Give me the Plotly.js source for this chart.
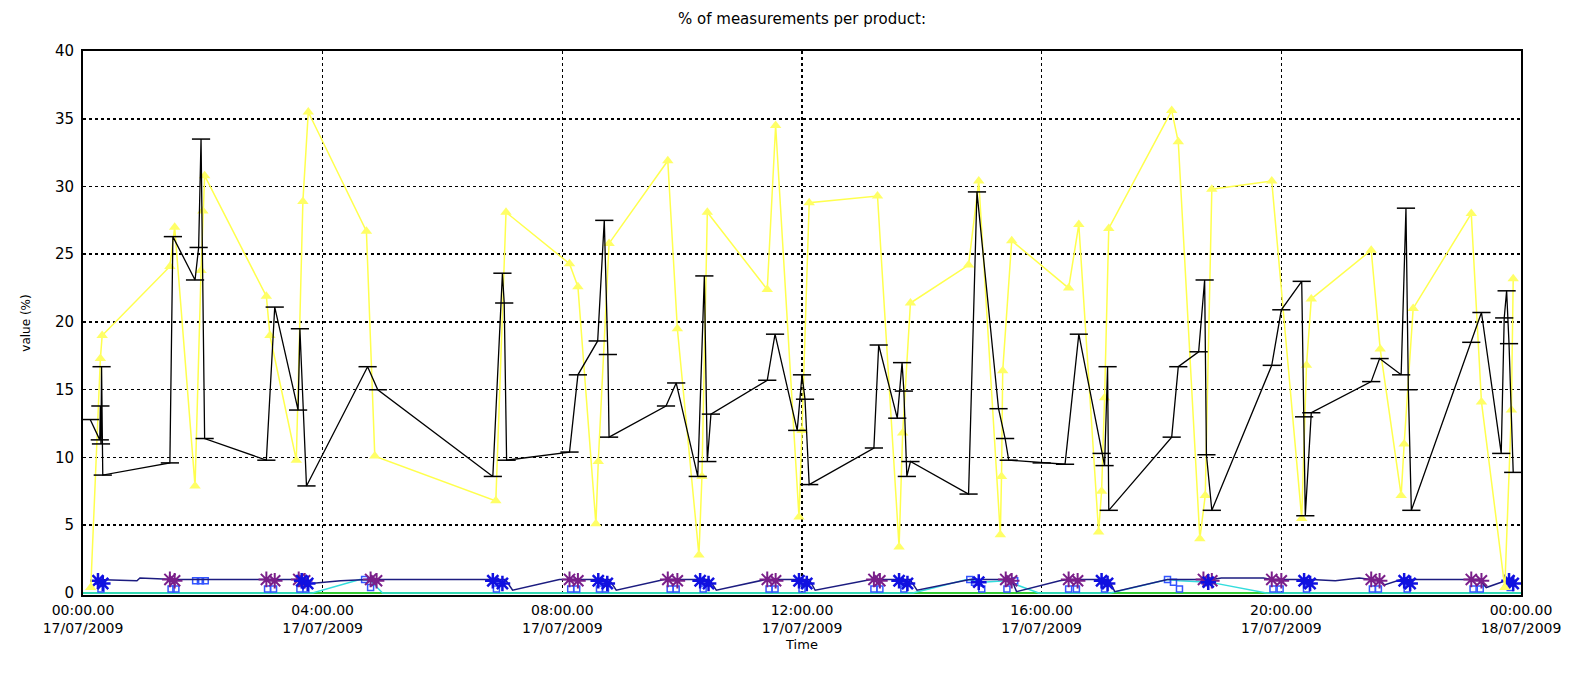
<!DOCTYPE html>
<html>
<head>
<meta charset="utf-8">
<script src="https://cdn.plot.ly/plotly-3.0.1.min.js"></script>
<style>
html,body{margin:0;padding:0;background:#fff;}
#chart{width:1594px;height:679px;}
</style>
</head>
<body>
<div id="chart"></div>
<script>
// ---- data (hours since 00:00 17/07/2009, value in %) ----
const tickHours = [0, 4, 8, 12, 16, 20, 24];
const tickLabels = [
  "00:00.00<br>17/07/2009", "04:00.00<br>17/07/2009", "08:00.00<br>17/07/2009",
  "12:00.00<br>17/07/2009", "16:00.00<br>17/07/2009", "20:00.00<br>17/07/2009",
  "00:00.00<br>18/07/2009"
];
const yTicks = [0, 5, 10, 15, 20, 25, 30, 35, 40];

const yellowX = [0.13, 0.29, 0.32, 1.45, 1.53, 1.87, 1.97, 2.0, 2.03, 3.06, 3.12, 3.56, 3.67, 3.76, 4.73, 4.87,
  6.89, 7.06, 8.12, 8.26, 8.56, 8.6, 8.78, 9.76, 9.92, 10.28, 10.33, 10.42, 11.42, 11.56, 11.95, 12.0, 12.12,
  13.26, 13.62, 13.68, 13.81, 14.78, 14.95, 15.31, 15.33, 15.35, 15.5, 16.45, 16.62, 16.95, 17.0, 17.05, 17.12,
  18.17, 18.28, 18.64, 18.73, 18.84, 19.84, 20.34, 20.42, 20.5, 21.5, 21.65, 22.0, 22.05, 22.2,
  23.17, 23.34, 23.73, 23.84, 23.87];
const yellowY = [0.4, 17.3, 19.0, 24.1, 27.0, 7.9, 23.8, 28.2, 30.8, 21.9, 19.0, 9.8, 28.9, 35.5, 26.7, 10.1,
  6.8, 28.1, 24.3, 22.6, 5.1, 9.7, 25.8, 31.9, 19.5, 2.8, 8.6, 28.1, 22.4, 34.5, 5.6, 12.0, 28.8,
  29.3, 3.4, 11.8, 21.4, 24.2, 30.4, 4.3, 8.6, 16.4, 26.0, 22.5, 27.2, 4.5, 7.5, 14.4, 26.9,
  35.6, 33.3, 4.0, 7.2, 29.8, 30.4, 5.5, 16.8, 21.7, 25.3, 18.0, 7.2, 11.0, 21.0,
  28.0, 14.1, 0.4, 13.5, 23.2];

const blackX = [0.12, 0.28, 0.29, 0.30, 0.31, 0.33, 1.45, 1.50, 1.87, 1.93, 1.97, 2.03, 3.06, 3.20, 3.59, 3.62, 3.73,
  4.75, 4.92, 6.84, 7.00, 7.03, 7.07, 8.12, 8.26, 8.59, 8.70, 8.76, 8.78, 9.73, 9.90, 10.26, 10.37, 10.42, 10.48,
  11.42, 11.55, 11.92, 12.00, 12.05, 12.12, 13.20, 13.28, 13.59, 13.67, 13.70, 13.75, 13.81, 14.78, 14.92,
  15.28, 15.39, 15.45, 16.00, 16.39, 16.62, 17.00, 17.05, 17.10, 17.12, 18.17, 18.28, 18.62, 18.72, 18.75, 18.84,
  19.84, 20.00, 20.34, 20.38, 20.40, 20.50, 21.50, 21.64, 22.00, 22.08, 22.12, 22.17, 23.17, 23.34,
  23.67, 23.72, 23.76, 23.80, 23.87];
const blackY = [12.8, 11.3, 13.8, 11.0, 16.7, 8.7, 9.6, 26.3, 23.1, 25.5, 33.5, 11.4, 9.8, 21.1, 13.5, 19.5, 7.9,
  16.7, 15.0, 8.6, 23.6, 21.4, 9.8, 10.4, 16.1, 18.6, 27.5, 17.6, 11.5, 13.8, 15.5, 8.6, 23.4, 9.7, 13.2,
  15.7, 19.1, 12.0, 16.1, 14.3, 8.0, 10.7, 18.3, 12.9, 17.0, 14.9, 8.6, 9.7, 7.3, 29.6,
  13.6, 11.4, 9.8, 9.6, 9.5, 19.1, 10.3, 9.4, 16.7, 6.1, 11.5, 16.7, 17.8, 23.1, 10.2, 6.1,
  16.8, 20.9, 23.0, 13.0, 5.7, 13.3, 15.6, 17.3, 16.1, 28.4, 15.0, 6.1, 18.5, 20.7,
  10.3, 20.3, 22.3, 18.4, 8.9];

const navyX = [0.2, 0.9, 0.95, 1.45, 1.53, 1.95, 2.05, 3.06, 3.2, 3.65, 3.8, 4.3, 4.75, 4.92, 6.0, 6.84, 7.05, 7.17,
  7.95, 8.12, 8.26, 8.6, 8.78, 8.9, 9.7, 9.76, 9.92, 10.3, 10.45, 10.57, 11.4, 11.56, 11.95, 12.12, 12.22,
  13.15, 13.28, 13.62, 13.8, 13.92, 14.8, 14.95, 15.4, 15.5, 15.58, 16.0, 16.3, 16.45, 16.62, 17.0, 17.12, 17.22,
  18.1, 18.3, 18.7, 18.84, 19.0, 19.7, 19.84, 20.0, 20.4, 20.5, 20.9, 21.3, 21.5, 21.64, 21.72, 22.0, 22.2,
  23.15, 23.3, 23.42, 23.8, 23.87];
const navyY = [1.0, 0.9, 1.1, 1.0, 1.0, 1.0, 1.0, 1.0, 1.0, 1.0, 0.7, 0.9, 1.0, 1.0, 1.0, 1.0, 1.0, 0.2,
  1.0, 1.0, 1.0, 1.0, 1.0, 0.2, 1.0, 1.0, 1.0, 1.0, 1.0, 0.2, 1.0, 1.0, 1.0, 1.0, 0.2,
  1.0, 1.0, 1.0, 1.0, 0.2, 1.0, 1.0, 1.0, 1.0, 0.1, 0.6, 0.9, 1.0, 1.0, 1.0, 1.0, 0.1,
  1.0, 1.0, 1.0, 1.0, 1.1, 1.1, 1.0, 1.0, 1.0, 1.0, 0.9, 1.1, 1.0, 1.0, 0.6, 1.0, 1.0,
  1.0, 1.0, 0.4, 1.0, 1.0];

const purpleX = [1.45, 1.53, 3.06, 3.2, 3.6, 3.7, 4.8, 4.9, 8.12, 8.26, 9.76, 9.92, 11.42, 11.56, 13.2, 13.3,
  15.4, 15.5, 16.45, 16.6, 18.7, 18.84, 19.84, 20.0, 21.5, 21.64, 23.17, 23.34];
const purpleY = [1.0, 0.9, 1.0, 0.9, 1.0, 0.9, 1.0, 0.9, 1.0, 0.9, 1.0, 0.9, 1.0, 0.9, 1.0, 0.9,
  1.0, 0.9, 1.0, 0.9, 1.0, 0.9, 1.0, 0.9, 1.0, 0.9, 1.0, 0.9];

const blueX = [0.25, 0.33, 3.65, 3.75, 6.84, 7.0, 8.6, 8.75, 10.3, 10.44, 11.95, 12.08, 13.62, 13.76,
  14.95, 17.0, 17.1, 18.78, 20.38, 20.48, 22.05, 22.15, 23.8, 23.87];
const blueY = [0.9, 0.7, 0.9, 0.7, 0.9, 0.7, 0.9, 0.7, 0.9, 0.7, 0.9, 0.7, 0.9, 0.7,
  0.8, 0.9, 0.7, 0.8, 0.9, 0.7, 0.9, 0.7, 0.9, 0.7];

const squareX = [0.3, 1.47, 1.55, 1.88, 1.96, 2.04, 3.08, 3.18, 3.62, 3.72, 4.7, 4.8, 6.9, 8.14, 8.24, 8.62, 8.72,
  9.8, 9.9, 10.35, 11.45, 11.55, 12.0, 13.2, 13.3, 13.7, 14.8, 14.88, 15.0, 15.42, 15.55, 16.45, 16.58, 17.05,
  18.1, 18.2, 18.3, 18.72, 18.82, 19.86, 19.98, 20.42, 21.52, 21.62, 22.1, 23.2, 23.32, 23.82];
const squareY = [0.3, 0.3, 0.3, 0.9, 0.9, 0.9, 0.3, 0.3, 0.3, 0.3, 1.0, 0.4, 0.3, 0.3, 0.3, 0.3, 0.3,
  0.3, 0.3, 0.3, 0.3, 0.3, 0.3, 0.3, 0.3, 0.3, 1.0, 0.8, 0.3, 0.3, 0.9, 0.3, 0.3, 0.3,
  1.0, 0.8, 0.3, 0.9, 0.9, 0.3, 0.3, 0.3, 0.3, 0.3, 0.3, 0.3, 0.3, 0.4];

const cyanX = [0, 3.83, 4.62, 4.8, 5.0, 13.85, 14.75, 15.0, 15.4, 15.95, 17.15, 18.1, 18.3, 18.8, 19.75, 24];
const cyanY = [0, 0, 1.0, 0.9, 0, 0, 1.0, 0.8, 0.9, 0, 0, 1.0, 0.9, 0.8, 0, 0];

const greenX = [0, 24];
const greenY = [0, 0];

// ---- traces ----
const traces = [
  {x: greenX, y: greenY, mode: 'lines', line: {color: '#33cc33', width: 2}, hoverinfo: 'skip'},
  {x: cyanX, y: cyanY, mode: 'lines', line: {color: '#33dddd', width: 1.5}},
  {x: squareX, y: squareY, mode: 'markers',
   marker: {symbol: 'square-open', size: 6, color: '#3355ff', line: {width: 1.5, color: '#3355ff'}}},
  {x: navyX, y: navyY, mode: 'lines', line: {color: '#1c1c80', width: 1.5}},
  {x: purpleX, y: purpleY, mode: 'markers',
   marker: {symbol: 'asterisk-open', size: 13, color: '#7a1f8a', line: {width: 2, color: '#7a1f8a'}}},
  {x: blueX, y: blueY, mode: 'markers',
   marker: {symbol: 'asterisk-open', size: 13, color: '#1010e0', line: {width: 2.5, color: '#1010e0'}}},
  {x: yellowX, y: yellowY, mode: 'lines+markers', line: {color: '#ffff4d', width: 1.5},
   marker: {symbol: 'triangle-up', size: 10, color: '#ffff66'}},
  {x: blackX, y: blackY, mode: 'lines+markers', line: {color: '#000000', width: 1.3},
   marker: {symbol: 'line-ew-open', size: 13, color: '#000', line: {width: 1.5, color: '#000'}}}
];

const font = 'DejaVu Sans, Arial, sans-serif';
const layout = {
  width: 1594, height: 679,
  paper_bgcolor: '#ffffff', plot_bgcolor: '#ffffff',
  showlegend: false,
  margin: {l: 83, r: 73, t: 51, b: 84},
  title: {text: '% of measurements per product:', x: 0.5, xref: 'paper', y: 0.98, yref: 'container',
          yanchor: 'top', font: {family: font, size: 15, color: '#000'}},
  xaxis: {
    range: [0, 24], tickmode: 'array', tickvals: tickHours, ticktext: tickLabels,
    showgrid: true, gridcolor: '#000', gridwidth: 1.5, griddash: '3px,3px',
    showline: true, linecolor: '#000', linewidth: 2, mirror: true,
    zeroline: false, ticks: '', ticklabelstandoff: 1,
    tickfont: {family: font, size: 14, color: '#000'},
    title: {text: 'Time', font: {family: font, size: 13, color: '#000'}, standoff: 5}
  },
  yaxis: {
    range: [-0.15, 40], tickmode: 'array', tickvals: yTicks,
    showgrid: true, gridcolor: '#000', gridwidth: 1.5, griddash: '3px,3px',
    showline: true, linecolor: '#000', linewidth: 2, mirror: true,
    zeroline: false, ticks: '', ticklabelstandoff: 4,
    tickfont: {family: font, size: 15, color: '#000'},
    title: {text: 'value (%)', font: {family: font, size: 12, color: '#000'}, standoff: 22}
  }
};

Plotly.newPlot('chart', traces, layout, {displayModeBar: false, staticPlot: true});
</script>
</body>
</html>
